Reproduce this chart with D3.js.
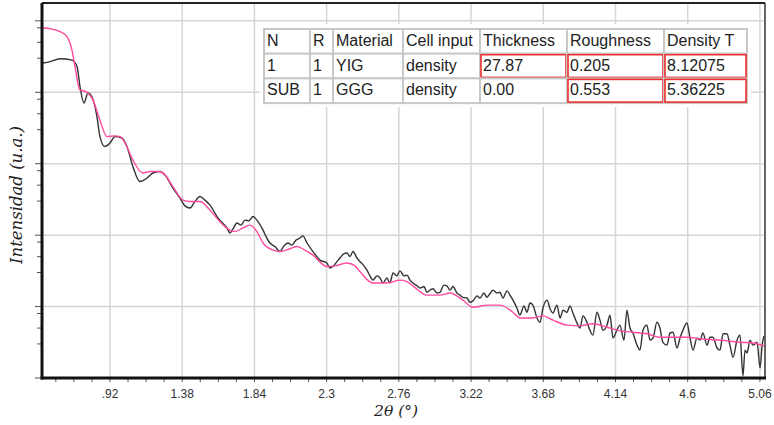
<!DOCTYPE html>
<html>
<head>
<meta charset="utf-8">
<script src="https://cdn.jsdelivr.net/npm/d3@7/dist/d3.min.js"></script>
<style>
  body { margin: 0; background: #fff; }
</style>
</head>
<body>
<div id="chart"></div>
<script>
// values: [2theta (deg), log10 intensity]
const fitCurve = [
  [0.493,4.90],[0.538,4.89],[0.602,4.85],[0.646,4.78],[0.678,4.59],[0.697,4.36],[0.729,4.03],
  [0.754,4.02],[0.780,3.99],[0.812,3.89],[0.856,3.61],[0.901,3.38],[0.945,3.39],[0.984,3.38],
  [1.016,3.29],[1.066,3.05],[1.130,2.87],[1.175,2.89],[1.219,2.89],[1.258,2.87],[1.321,2.68],
  [1.385,2.49],[1.430,2.47],[1.493,2.47],[1.557,2.35],[1.620,2.19],[1.684,2.07],[1.716,2.05],
  [1.767,2.10],[1.812,2.14],[1.856,2.05],[1.895,1.89],[1.958,1.79],[2.003,1.77],[2.066,1.81],
  [2.111,1.84],[2.162,1.79],[2.213,1.72],[2.302,1.56],[2.353,1.57],[2.430,1.61],[2.481,1.57],
  [2.512,1.49],[2.595,1.33],[2.684,1.33],[2.767,1.37],[2.812,1.35],[2.850,1.29],[2.939,1.16],
  [3.022,1.16],[3.086,1.19],[3.168,1.09],[3.232,0.99],[3.321,1.02],[3.404,1.02],[3.487,0.92],
  [3.531,0.84],[3.614,0.84],[3.678,0.87],[3.742,0.81],[3.831,0.74],[3.914,0.73],[3.996,0.76],
  [4.086,0.71],[4.168,0.66],[4.251,0.64],[4.340,0.62],[4.423,0.57],[4.595,0.57],[4.678,0.55],
  [4.850,0.52],[4.933,0.50],[5.015,0.49],[5.086,0.45]
];

const measured = [
  [0.493,4.41],[0.538,4.43],[0.602,4.47],[0.678,4.45],[0.710,4.36],[0.729,4.08],[0.754,3.85],
  [0.780,3.99],[0.799,3.96],[0.837,3.66],[0.856,3.38],[0.888,3.24],[0.920,3.29],[0.952,3.38],
  [0.996,3.36],[1.028,3.24],[1.066,2.96],[1.111,2.75],[1.156,2.80],[1.194,2.87],[1.238,2.89],
  [1.270,2.84],[1.321,2.66],[1.366,2.52],[1.398,2.41],[1.430,2.38],[1.461,2.47],[1.493,2.54],
  [1.525,2.49],[1.557,2.42],[1.608,2.24],[1.665,2.10],[1.684,2.03],[1.704,2.09],[1.729,2.17],
  [1.754,2.14],[1.780,2.21],[1.805,2.20],[1.831,2.26],[1.863,2.19],[1.895,2.07],[1.914,1.98],
  [1.939,1.89],[1.971,1.84],[2.003,1.77],[2.028,1.85],[2.054,1.89],[2.079,1.86],[2.105,1.93],
  [2.130,1.96],[2.149,1.99],[2.175,1.89],[2.213,1.77],[2.258,1.65],[2.302,1.61],[2.321,1.54],
  [2.340,1.56],[2.366,1.63],[2.385,1.68],[2.411,1.74],[2.430,1.75],[2.449,1.70],[2.468,1.77],
  [2.493,1.68],[2.512,1.63],[2.538,1.57],[2.557,1.51],[2.576,1.43],[2.595,1.37],[2.621,1.43],
  [2.640,1.40],[2.659,1.33],[2.684,1.40],[2.703,1.33],[2.723,1.47],[2.748,1.43],[2.767,1.50],
  [2.793,1.43],[2.812,1.44],[2.831,1.37],[2.850,1.33],[2.876,1.29],[2.895,1.26],[2.920,1.28],
  [2.939,1.20],[2.958,1.23],[2.977,1.25],[3.003,1.19],[3.022,1.20],[3.047,1.30],[3.066,1.29],
  [3.086,1.23],[3.105,1.28],[3.130,1.19],[3.149,1.16],[3.168,1.13],[3.194,1.12],[3.213,1.06],
  [3.232,1.08],[3.258,1.15],[3.277,1.12],[3.302,1.19],[3.321,1.13],[3.340,1.18],[3.360,1.23],
  [3.385,1.19],[3.404,1.20],[3.423,1.12],[3.449,1.22],[3.468,1.16],[3.487,1.09],[3.512,0.98],
  [3.531,0.88],[3.557,1.01],[3.576,0.92],[3.595,1.05],[3.614,1.02],[3.640,0.84],[3.659,0.78],
  [3.678,0.98],[3.704,1.09],[3.723,0.97],[3.742,0.91],[3.767,1.02],[3.787,0.84],[3.806,0.95],
  [3.831,0.92],[3.850,1.01],[3.869,0.91],[3.895,0.77],[3.914,0.70],[3.933,0.87],[3.958,0.78],
  [3.977,0.67],[3.996,0.60],[4.022,0.92],[4.041,0.81],[4.060,0.67],[4.086,0.74],[4.105,0.88],
  [4.124,0.56],[4.149,0.67],[4.168,0.74],[4.194,0.53],[4.213,0.95],[4.232,0.70],[4.251,0.63],
  [4.277,0.46],[4.296,0.39],[4.315,0.67],[4.340,0.74],[4.360,0.53],[4.379,0.56],[4.404,0.78],
  [4.423,0.70],[4.442,0.50],[4.468,0.46],[4.487,0.63],[4.506,0.64],[4.532,0.42],[4.551,0.56],
  [4.570,0.67],[4.595,0.77],[4.615,0.56],[4.634,0.39],[4.659,0.56],[4.678,0.53],[4.697,0.63],
  [4.723,0.46],[4.742,0.57],[4.761,0.57],[4.787,0.42],[4.806,0.39],[4.825,0.62],[4.850,0.62],
  [4.869,0.46],[4.889,0.29],[4.914,0.53],[4.933,0.60],[4.952,0.03],[4.965,0.39],[4.978,0.35],
  [4.997,0.53],[5.016,0.46],[5.042,0.50],[5.061,0.14],[5.074,0.46],[5.086,0.59]
];

const xTicks = [0.92, 1.38, 1.84, 2.3, 2.76, 3.22, 3.68, 4.14, 4.6, 5.06];
const xTickLabels = [".92", "1.38", "1.84", "2.3", "2.76", "3.22", "3.68", "4.14", "4.6", "5.06"];
const decades = [0, 1, 2, 3, 4, 5];

const tableHead = ["N", "R", "Material", "Cell input", "Thickness", "Roughness", "Density T"];
const tableRows = [
  ["1", "1", "YIG", "density", "27.87", "0.205", "8.12075"],
  ["SUB", "1", "GGG", "density", "0.00", "0.553", "5.36225"]
];
const redCells = [[0, 4], [0, 5], [0, 6], [1, 5], [1, 6]];

const W = 774, H = 425;
const svg = d3.select("#chart").append("svg")
  .attr("width", W).attr("height", H)
  .style("font-family", "'Liberation Sans', Arial, sans-serif");

const x = d3.scaleLinear().domain([0.487, 5.086]).range([42, 764]);
const y = d3.scaleLinear().domain([0, 5.25]).range([378, 3]);

// grid
svg.append("g").selectAll("line").data(xTicks).join("line")
  .attr("x1", d => x(d)).attr("x2", d => x(d))
  .attr("y1", y(5.25)).attr("y2", y(0))
  .attr("stroke", "#d6d6d6").attr("stroke-width", 1.5);
svg.append("g").selectAll("line").data(decades).join("line")
  .attr("x1", x(0.487)).attr("x2", x(5.086))
  .attr("y1", d => y(d)).attr("y2", d => y(d))
  .attr("stroke", "#d6d6d6").attr("stroke-width", 1.5);

// curves
const line = d3.line().x(d => x(d[0])).y(d => y(d[1])).curve(d3.curveMonotoneX);
svg.append("path").datum(measured).attr("d", line)
  .attr("fill", "none").attr("stroke", "#333").attr("stroke-width", 1.4);
svg.append("path").datum(fitCurve).attr("d", line)
  .attr("fill", "none").attr("stroke", "#ff4a9e").attr("stroke-width", 1.4);

// table panel
const colW = [46, 23, 70, 77, 87, 97, 83];
const rowH = 24.7;
const tx0 = 264, ty0 = 29;
const colX = [tx0];
colW.forEach((w, i) => colX.push(colX[i] + w));
svg.append("rect").attr("x", tx0 - 4).attr("y", 24)
  .attr("width", colX[7] - tx0 + 8).attr("height", rowH * 3 + 9).attr("fill", "#fff");

const allRows = [tableHead].concat(tableRows);
const tbl = svg.append("g");
allRows.forEach((row, r) => {
  row.forEach((txt, c) => {
    const isRed = r > 0 && redCells.some(d => d[0] === r - 1 && d[1] === c);
    tbl.append("rect")
      .attr("x", colX[c]).attr("y", ty0 + r * rowH)
      .attr("width", colW[c]).attr("height", rowH)
      .attr("fill", "#fff").attr("stroke", "#c8c8c8").attr("stroke-width", 2);
    if (isRed) {
      tbl.append("rect")
        .attr("x", colX[c] + 1).attr("y", ty0 + r * rowH + 1)
        .attr("width", colW[c] - 2).attr("height", rowH - 2)
        .attr("fill", "none").attr("stroke", "#f03030").attr("stroke-width", 1.6);
    }
    tbl.append("text")
      .attr("x", colX[c] + 3).attr("y", ty0 + r * rowH + 17)
      .attr("font-size", 16).attr("fill", "#222").text(txt);
  });
});

// frame
svg.append("line").attr("x1", x(0.487)).attr("x2", x(5.086) + 1)
  .attr("y1", y(5.25)).attr("y2", y(5.25)).attr("stroke", "#222").attr("stroke-width", 2);
svg.append("line").attr("x1", x(5.086) + 1).attr("x2", x(5.086) + 1)
  .attr("y1", y(5.25)).attr("y2", y(0)).attr("stroke", "#333").attr("stroke-width", 1.5);

// x axis
const xMinor = d3.range(0.575, 5.09, 0.115);
svg.append("g").selectAll("line").data(xMinor).join("line")
  .attr("x1", d => x(d)).attr("x2", d => x(d))
  .attr("y1", y(0)).attr("y2", y(0) + 4)
  .attr("stroke", "#555").attr("stroke-width", 1);
svg.append("g").selectAll("text").data(xTicks).join("text")
  .attr("x", d => x(d)).attr("y", 398)
  .attr("text-anchor", "middle").attr("font-size", 12).attr("fill", "#333")
  .text((d, i) => xTickLabels[i]);
svg.append("line").attr("x1", x(0.487) - 1.5).attr("x2", x(5.086) + 2)
  .attr("y1", y(0)).attr("y2", y(0)).attr("stroke", "#111").attr("stroke-width", 3);

// y axis (log decades)
const yMinor = [];
decades.forEach(d => [0.477, 0.699, 0.903].forEach(f => { if (d + f < 5.25) yMinor.push(d + f); }));
svg.append("g").selectAll("line").data(decades).join("line")
  .attr("x1", 35).attr("x2", 42).attr("y1", d => y(d)).attr("y2", d => y(d))
  .attr("stroke", "#555").attr("stroke-width", 1);
svg.append("g").selectAll("line").data(yMinor).join("line")
  .attr("x1", 37).attr("x2", 42).attr("y1", d => y(d)).attr("y2", d => y(d))
  .attr("stroke", "#555").attr("stroke-width", 1);
svg.append("line").attr("x1", x(0.487)).attr("x2", x(0.487))
  .attr("y1", y(5.25)).attr("y2", y(0) + 1.5).attr("stroke", "#111").attr("stroke-width", 3);

// axis titles
svg.append("text")
  .attr("transform", "translate(22,195) rotate(-90)")
  .attr("text-anchor", "middle")
  .style("font-family", "'DejaVu Serif', serif").style("font-style", "italic")
  .attr("font-size", 16.5).attr("fill", "#222")
  .text("Intensidad (u.a.)");
svg.append("text")
  .attr("x", 396).attr("y", 416).attr("text-anchor", "middle")
  .style("font-family", "'DejaVu Serif', serif").style("font-style", "italic")
  .attr("font-size", 15.5).attr("fill", "#222")
  .text("2θ (°)");
</script>
</body>
</html>
